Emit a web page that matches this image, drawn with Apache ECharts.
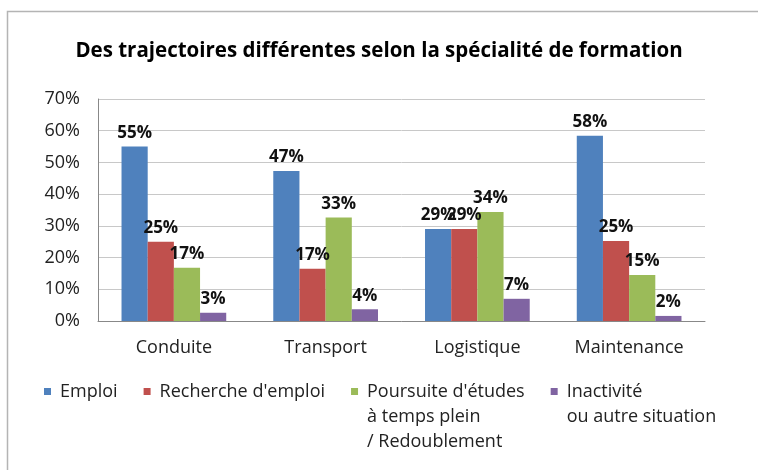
<!DOCTYPE html>
<html>
<head>
<meta charset="utf-8">
<script src="https://cdn.jsdelivr.net/npm/echarts@6/dist/echarts.min.js"></script>
<style>
  html, body { margin: 0; padding: 0; background: #fff; }
  #chart { width: 758px; height: 470px; }
</style>
</head>
<body>
<div id="chart"></div>
<script>
// specialites de formation
const categories = ['Conduite', 'Transport', 'Logistique', 'Maintenance']

// parts en %
const emploi = [55.0, 47.3, 29.0, 58.4]
const rechercheEmploi = [25.0, 16.5, 29.0, 25.2]
const poursuiteEtudes = [16.8, 32.6, 34.4, 14.5]
const inactivite = [2.6, 3.7, 7.0, 1.6]

const seriesNames = [
  'Emploi',
  "Recherche d'emploi",
  "Poursuite d'études\nà temps plein\n/ Redoublement",
  'Inactivité\nou autre situation'
]
const colors = ['#4F81BD', '#C0504D', '#9BBB59', '#8064A2']

const font = '"Open Sans", "Liberation Sans", sans-serif'
const lineH = 25

const chart = echarts.init(document.getElementById('chart'))

const makeSeries = (name, data, color) => ({
  name: name,
  type: 'bar',
  data: data,
  barGap: '0%',
  barCategoryGap: '31%',
  itemStyle: { color: color },
  label: {
    show: true,
    position: 'top',
    distance: 5,
    fontFamily: font,
    fontWeight: 'bold',
    fontSize: 17,
    color: '#111',
    formatter: p => Math.round(p.value) + '%'
  }
})

const option = {
  animation: false,
  color: colors,
  title: {
    text: 'Des trajectoires différentes selon la spécialité de formation',
    left: 'center',
    top: 36,
    textStyle: {
      fontFamily: font,
      fontWeight: 'bold',
      fontSize: 20.5,
      color: '#000'
    }
  },
  graphic: [{
    type: 'rect',
    shape: { x: 7.5, y: 11.5, width: 800, height: 500 },
    style: { fill: 'none', stroke: '#b4b4b4', lineWidth: 1.5 }
  }],
  grid: { left: 98, right: 53, top: 99, bottom: 149 },
  legend: {
    left: 39,
    top: 324,
    itemWidth: 7,
    itemHeight: 7,
    itemGap: 26,
    icon: 'rect',
    textStyle: {
      fontFamily: font,
      fontSize: 18,
      color: '#222',
      lineHeight: lineH,
      padding: [0, 0, 0, 4]
    },
    // lignes vides en tete : la premiere ligne reste en face du carre
    formatter: name => '\n'.repeat(name.split('\n').length - 1) + name,
    data: seriesNames
  },
  xAxis: {
    type: 'category',
    data: categories,
    axisLine: { lineStyle: { color: '#888', width: 1 } },
    axisTick: { show: false },
    axisLabel: {
      margin: 18,
      fontFamily: font,
      fontSize: 18,
      color: '#222'
    }
  },
  yAxis: {
    type: 'value',
    min: 0,
    max: 70,
    interval: 10,
    axisLine: { show: true, lineStyle: { color: '#888' } },
    axisTick: { show: false },
    splitLine: { lineStyle: { color: '#c8c8c8', width: 1 } },
    axisLabel: {
      margin: 18,
      fontFamily: font,
      fontSize: 18,
      color: '#222',
      formatter: '{value}%'
    }
  },
  series: [
    makeSeries(seriesNames[0], emploi, colors[0]),
    makeSeries(seriesNames[1], rechercheEmploi, colors[1]),
    makeSeries(seriesNames[2], poursuiteEtudes, colors[2]),
    makeSeries(seriesNames[3], inactivite, colors[3])
  ]
}

chart.setOption(option)
</script>
</body>
</html>
